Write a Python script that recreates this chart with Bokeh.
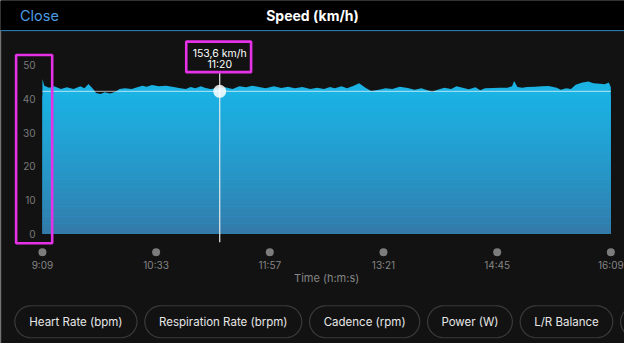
import numpy as np
from bokeh.plotting import figure
from bokeh.models import Range1d
from bokeh.core.properties import value
from bokeh.embed import file_html
from bokeh.resources import INLINE

# ---------------- data ----------------
elapsed_min = [0, 1.4, 5, 8.6, 13.7, 18, 23, 28, 31, 34,
               37.5, 39.6, 43, 46, 50, 54, 57, 61, 66, 70,
               74, 77, 81, 86, 91.5, 97, 102, 106, 109.5, 113,
               117, 120, 124, 130, 135, 140.5, 145.5, 150.5, 155, 160,
               165, 171, 176.5, 181.5, 186.5, 192, 198, 203, 208, 212.5,
               216, 221, 225, 230, 234, 239, 243, 248.5, 253.5, 258.5,
               264, 270, 275, 280, 284.5, 288, 292, 297, 302, 306,
               310.5, 315, 320, 323.5, 327, 333, 338, 343.5, 347, 348.5,
               351, 354.5, 358, 364, 369, 374, 380, 383, 387, 390.5,
               394, 399, 403.5, 407, 412, 415.5, 418.5, 420]
speed_kmh = [46.0, 44.0, 43.4, 43.8, 43.0, 43.5, 43.0, 43.8, 43.2, 44.5,
             43.0, 41.8, 41.5, 42.0, 41.7, 42.2, 43.0, 43.2, 43.0, 43.5,
             44.0, 43.7, 44.2, 43.8, 44.0, 43.6, 43.2, 43.0, 43.6, 43.2,
             43.8, 43.4, 43.0, 43.2, 43.5, 43.0, 43.8, 43.5, 44.0, 43.6,
             43.2, 43.8, 43.3, 43.7, 43.2, 43.6, 43.0, 43.4, 43.0, 43.6,
             43.2, 43.8, 43.2, 44.0, 44.7, 43.3, 42.4, 42.8, 43.2, 43.0,
             43.7, 43.3, 42.8, 43.2, 42.6, 42.2, 42.8, 43.4, 43.0, 43.8,
             43.4, 42.9, 43.5, 42.6, 43.2, 43.3, 43.4, 43.4, 43.8, 45.4,
             43.6, 43.4, 43.6, 43.7, 43.8, 43.9, 43.4, 42.8, 43.2, 43.0,
             44.3, 44.9, 45.2, 44.7, 44.6, 44.4, 44.9, 43.5]
avg_speed = 42.3
y_ticks = [0, 10, 20, 30, 40, 50]
x_tick_minutes = [0, 84, 168, 252, 336, 420]
x_tick_labels = ["9:09", "10:33", "11:57", "13:21", "14:45", "16:09"]
cursor_minute = 131
cursor_texts = ["153,6 km/h", "11:20"]
title_text = "Speed (km/h)"
close_text = "Close"
x_axis_title = "Time (h:m:s)"
buttons = ["Heart Rate (bpm)", "Respiration Rate (brpm)", "Cadence (rpm)",
           "Power (W)", "L/R Balance", ""]

# ---------------- layout ----------------
W, H = 624, 343
# reference screen is 640x359; chart: 9:09 at px 43, 16:09 at px 626; 0 at py 244, 50 at py 68
PX_PER_MIN = (626 - 43) / 420.0
PX_PER_KMH = (244 - 68) / 50.0
x0 = -43 / PX_PER_MIN
x1 = (640 - 43) / PX_PER_MIN
y0 = (244 - 359) / PX_PER_KMH
y1 = 244 / PX_PER_KMH

FONT = value("Inter")
BG = "#121212"

p = figure(width=W, height=H, output_backend="svg", toolbar_location=None,
           x_range=Range1d(x0, x1), y_range=Range1d(y0, y1),
           x_axis_location=None, y_axis_location=None,
           min_border=0, background_fill_color=BG, border_fill_color=BG,
           outline_line_color=None)
p.grid.visible = False
p.extra_x_ranges = {"px": Range1d(0, 640)}
p.extra_y_ranges = {"px": Range1d(359, 0)}

# header
p.quad(left=[0], right=[640], top=[0], bottom=[31], color="#000000",
       x_range_name="px", y_range_name="px")
p.segment(x0=[0], x1=[640], y0=[31.5], y1=[31.5], line_color="#2d86c6",
          line_width=1, x_range_name="px", y_range_name="px")
p.segment(x0=[0.5], x1=[0.5], y0=[32], y1=[359], line_color="#3a3a3a",
          line_width=1, x_range_name="px", y_range_name="px")
p.text(x=[320], y=[16], text=[title_text], text_align="center",
       text_baseline="middle", text_color="#ffffff", text_font=FONT,
       text_font_size="14px", text_font_style="bold",
       x_range_name="px", y_range_name="px")
p.text(x=[20], y=[16], text=[close_text], text_align="left",
       text_baseline="middle", text_color="#4b9be0", text_font=FONT,
       text_font_size="14.5px", x_range_name="px", y_range_name="px")

# area
p.varea(x=elapsed_min, y1=0, y2=speed_kmh, fill_color="#1bb2e4")
# vertical gradient inside the area (below the curve minimum)
levels = np.linspace(0, 41, 42)
c_bot = np.array([52, 121, 168])
c_top = np.array([27, 178, 228])
cols = []
for lv in levels[:-1]:
    f = (lv / 41.0) ** 0.8
    c = (c_bot + (c_top - c_bot) * f).astype(int)
    cols.append("#%02x%02x%02x" % tuple(c))
p.quad(left=elapsed_min[0], right=elapsed_min[-1], bottom=levels[:-1],
       top=levels[1:] + 0.08, fill_color=cols, line_color=None)

# average line
p.line(x=[elapsed_min[0], elapsed_min[-1]], y=[avg_speed, avg_speed],
       line_color="#ffffff", line_alpha=0.55, line_width=1.2)

# cursor
p.segment(x0=[cursor_minute], x1=[cursor_minute], y0=[75], y1=[253],
          line_color="#e8e8e8", line_width=1.2, y_range_name="px")
p.scatter(x=[cursor_minute], y=[avg_speed], size=13, fill_color="#ffffff",
          fill_alpha=0.85, line_color=None)
p.text(x=[cursor_minute] * 2, y=[55, 67], text=cursor_texts,
       text_align="center", text_baseline="middle", text_color="#ffffff",
       text_font=FONT, text_font_size="10.5px", y_range_name="px")

# y tick labels
p.text(x=[36] * len(y_ticks), y=y_ticks, text=[str(v) for v in y_ticks],
       text_align="right", text_baseline="middle", text_color="#7a7a7a",
       text_font=FONT, text_font_size="10px", x_range_name="px")

# x ticks: dots + labels
p.scatter(x=x_tick_minutes, y=[263.5] * len(x_tick_minutes), size=8,
          fill_color="#7c7c7c", line_color=None, y_range_name="px")
p.text(x=x_tick_minutes, y=[276.5] * len(x_tick_minutes), text=x_tick_labels,
       text_align="center", text_baseline="middle", text_color="#858585",
       text_font=FONT, text_font_size="10px", y_range_name="px")
p.text(x=[334.5], y=[290], text=[x_axis_title], text_align="center",
       text_baseline="middle", text_color="#858585", text_font=FONT,
       text_font_size="11px", x_range_name="px", y_range_name="px")

# magenta highlight boxes
p.quad(left=[16, 190.5], right=[53, 257], top=[57, 43], bottom=[254, 75],
       fill_color=None, line_color="#e632e6", line_width=2.6,
       x_range_name="px", y_range_name="px")

# pill buttons
pill_lr = [(14.7, 140), (148, 309), (317, 430), (438, 525), (533, 628), (636, 760)]
ptop, pbot = 319.5, 353
r = (pbot - ptop) / 2
xs, ys = [], []
for (l, rt) in pill_lr:
    a1 = np.linspace(-np.pi / 2, np.pi / 2, 24)
    a2 = np.linspace(np.pi / 2, 3 * np.pi / 2, 24)
    cy = (ptop + pbot) / 2
    px_ = list(rt - r + r * np.cos(a1)) + list(l + r + r * np.cos(a2))
    py_ = list(cy + r * np.sin(a1)) + list(cy + r * np.sin(a2))
    xs.append(px_)
    ys.append(py_)
p.patches(xs=xs, ys=ys, fill_color=None, line_color="#3a3a3a", line_width=1.2,
          x_range_name="px", y_range_name="px")
p.text(x=[(l + rt) / 2 for (l, rt) in pill_lr], y=[336.5] * len(pill_lr),
       text=buttons, text_align="center", text_baseline="middle",
       text_color="#e6e6e6", text_font=FONT, text_font_size="11.5px",
       x_range_name="px", y_range_name="px")

open("out.html", "w").write(file_html(p, INLINE))
